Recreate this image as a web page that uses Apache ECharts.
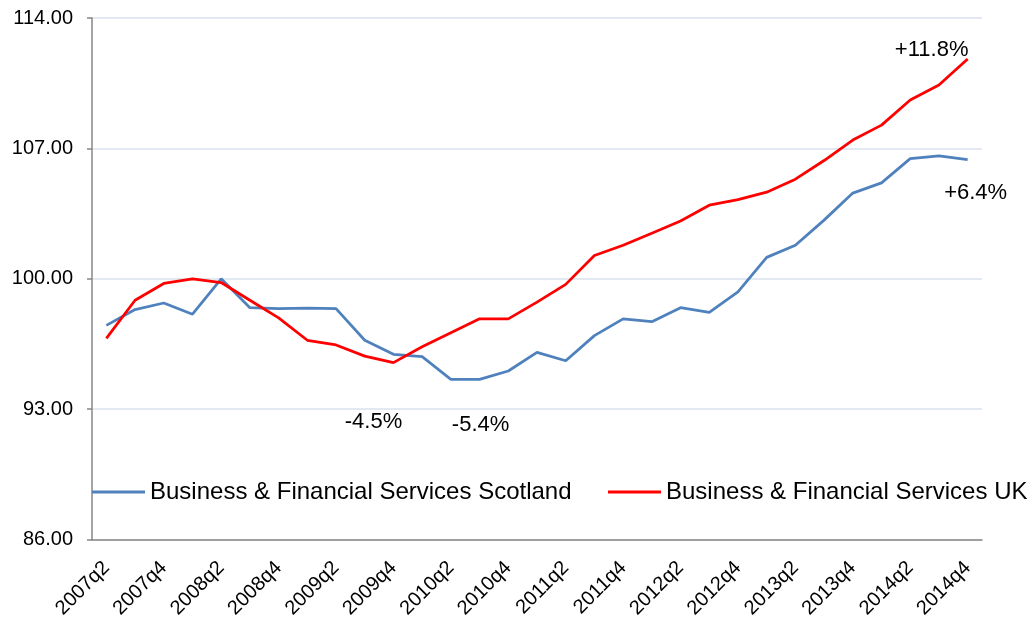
<!DOCTYPE html>
<html>
<head>
<meta charset="utf-8">
<script src="https://cdn.jsdelivr.net/npm/echarts@6/dist/echarts.min.js"></script>
<style>
  html, body { margin: 0; padding: 0; background: #fff; }
  #chart { width: 1030px; height: 621px; }
</style>
</head>
<body>
<div id="chart"></div>
<script>
// Quarterly index (2008q1 = 100), business & financial services output
const quarters = [
  '2007q2','2007q3','2007q4','2008q1','2008q2','2008q3','2008q4','2009q1',
  '2009q2','2009q3','2009q4','2010q1','2010q2','2010q3','2010q4','2011q1',
  '2011q2','2011q3','2011q4','2012q1','2012q2','2012q3','2012q4','2013q1',
  '2013q2','2013q3','2013q4','2014q1','2014q2','2014q3','2014q4'
];
const scotland = [
  97.5, 98.35, 98.7, 98.1, 100.0, 98.45, 98.4, 98.42,
  98.4, 96.7, 95.95, 95.82, 94.6, 94.6, 95.05, 96.05,
  95.6, 96.95, 97.85, 97.7, 98.45, 98.2, 99.3, 101.15,
  101.8, 103.15, 104.6, 105.15, 106.45, 106.6, 106.4
];
const uk = [
  96.8, 98.85, 99.75, 100.0, 99.8, 98.85, 97.9, 96.7,
  96.45, 95.85, 95.5, 96.35, 97.1, 97.85, 97.85, 98.75,
  99.7, 101.25, 101.8, 102.45, 103.1, 103.95, 104.25, 104.65,
  105.35, 106.35, 107.45, 108.25, 109.6, 110.4, 111.8
];
const seriesNames = ['Business & Financial Services Scotland', 'Business & Financial Services UK'];
const yTicks = { min: 86, max: 114, step: 7 };

// Change annotations: [quarter, text, offset]
const scotlandNotes = [['2010q3', '-5.4%', [1, 46]], ['2014q4', '+6.4%', [8, 33]]];
const ukNotes = [['2009q4', '-4.5%', [-20, 59]], ['2014q4', '+11.8%', [-36, -9]]];

const FONT = 'Arial, "Liberation Sans", sans-serif';

function withNotes(values, notes) {
  return values.map((v, i) => {
    const n = notes.find(a => a[0] === quarters[i]);
    if (!n) return v;
    return {
      value: v,
      label: {
        show: true, formatter: n[1], position: 'inside', offset: n[2],
        fontSize: 22, fontFamily: FONT, color: '#000'
      }
    };
  });
}

const legendBase = {
  top: 480, padding: 0,
  itemWidth: 53, itemHeight: 3, itemGap: 40,
  icon: 'rect',
  textStyle: { fontSize: 24, fontFamily: FONT, color: '#000' }
};

const chart = echarts.init(document.getElementById('chart'), null, { renderer: 'canvas' });
chart.setOption({
  animation: false,
  backgroundColor: '#fff',
  grid: { left: 92, right: 48, top: 18, bottom: 81, containLabel: false },
  legend: [
    Object.assign({ left: 92, data: [seriesNames[0]] }, legendBase),
    Object.assign({ left: 608, data: [seriesNames[1]] }, legendBase)
  ],
  xAxis: {
    type: 'category',
    data: quarters,
    boundaryGap: true,
    axisLine: { lineStyle: { color: '#868686', width: 1.5 } },
    axisTick: { interval: 0, length: 5, lineStyle: { color: '#868686', width: 1.5 } },
    axisLabel: {
      interval: 1, rotate: 45, fontSize: 20, fontFamily: FONT, color: '#000',
      margin: 25
    },
    splitLine: { show: false }
  },
  yAxis: {
    type: 'value',
    min: yTicks.min, max: yTicks.max, interval: yTicks.step,
    axisLine: { show: true, lineStyle: { color: '#868686', width: 1.5 } },
    axisTick: { show: true, length: 5, lineStyle: { color: '#868686', width: 1.5 } },
    axisLabel: {
      fontSize: 20, fontFamily: FONT, color: '#000', margin: 19,
      formatter: v => v.toFixed(2)
    },
    splitLine: { lineStyle: { color: '#d9e2ef', width: 1.5 } }
  },
  series: [
    {
      name: seriesNames[0], type: 'line',
      data: withNotes(scotland, scotlandNotes),
      color: '#4f81bd',
      lineStyle: { color: '#4f81bd', width: 2.75 },
      symbol: 'circle', symbolSize: 0, showAllSymbol: true,
      z: 3
    },
    {
      name: seriesNames[1], type: 'line',
      data: withNotes(uk, ukNotes),
      color: '#ff0000',
      lineStyle: { color: '#ff0000', width: 2.75 },
      symbol: 'circle', symbolSize: 0, showAllSymbol: true,
      z: 4
    }
  ]
});
</script>
</body>
</html>
